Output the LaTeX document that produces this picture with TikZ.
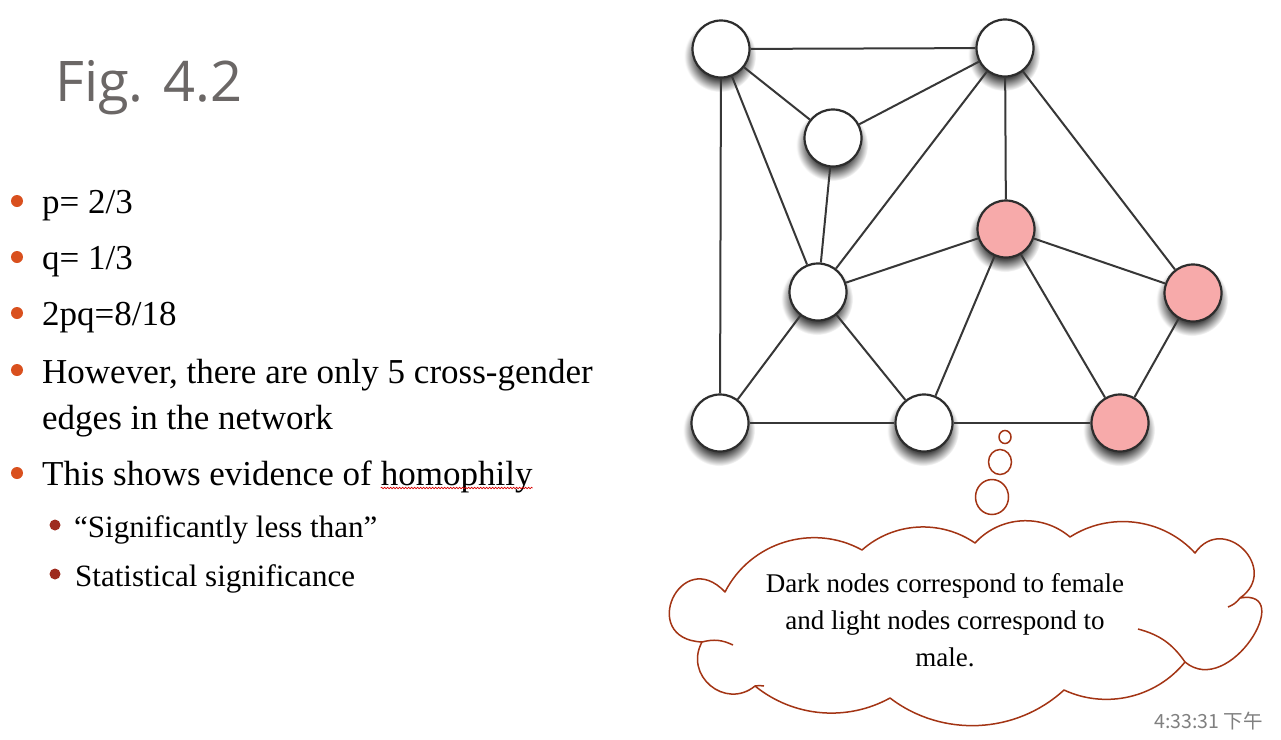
\documentclass[tikz,border=0pt]{standalone}
\usepackage{fontspec}
\setmainfont{Liberation Serif}
\newfontfamily\titlefont{Open Sans}
\newfontfamily\cjkfont{Noto Sans CJK SC}
\usetikzlibrary{shapes.geometric,decorations.pathmorphing}

\definecolor{nodepink}{RGB}{247,170,170}
\definecolor{nodeline}{RGB}{45,45,45}
\definecolor{edgegray}{RGB}{55,55,55}
\definecolor{bulletorange}{RGB}{217,80,30}
\definecolor{bulletred}{RGB}{158,42,30}
\definecolor{cloudred}{RGB}{163,52,20}
\definecolor{titlegray}{RGB}{107,103,102}
\definecolor{stampgray}{RGB}{128,128,128}

% soft round shadow: dark core fading out to white at the rim
\pgfdeclareradialshading{nodeshadow}{\pgfpoint{0cm}{0cm}}{%
  color(0bp)=(black!72); color(16bp)=(black!72);
  color(25bp)=(white); color(50bp)=(white)}

\begin{document}
\begin{tikzpicture}[x=1pt,y=-1pt,
  person/.style={circle, draw=nodeline, line width=2.2pt, minimum size=57pt,
    inner sep=0pt, fill=white},
  female/.style={person, fill=nodepink},
  tie/.style={draw=edgegray, line width=2pt},
  dot/.style={circle, fill=bulletorange, inner sep=0pt, minimum size=12pt},
  subdot/.style={circle, fill=bulletred, inner sep=0pt, minimum size=11pt},
  item/.style={anchor=base west, inner sep=0pt, font=\fontsize{35}{46}\selectfont},
  subitem/.style={anchor=base west, inner sep=0pt, font=\fontsize{31}{40}\selectfont},
  cloudline/.style={draw=cloudred, line width=1.5pt},
  bubble/.style={ellipse, cloudline, inner sep=0pt, fill=white}
]
% canvas
\fill[white] (0,0) rectangle (1281,739);
\useasboundingbox (0,0) rectangle (1281,739);

% title
\node[anchor=base west, inner sep=0pt, text=titlegray,
  font=\titlefont\fontsize{56}{60}\selectfont] (title) at (55,101) {Fig. 4.2};

% bullet list
\node[dot] (b1) at (17,201) {};
\node[item] (l1) at (42,213) {p= 2/3};
\node[dot] (b2) at (17,257) {};
\node[item] (l2) at (42,269) {q= 1/3};
\node[dot] (b3) at (17,313) {};
\node[item] (l3) at (42,325) {2pq=8/18};
\node[dot] (b4) at (17,370) {};
\node[item] (l4a) at (42,383) {However, there are only 5 cross-gender};
\node[item] (l4b) at (42,429) {edges in the network};
\node[dot] (b5) at (17,473) {};
\node[item] (l5a) at (42,485) {This shows evidence of};
\node[item] (l5b) at ([xshift=8.75pt]l5a.base east) {homophily};
\draw[red!85!black, line width=0.6pt, decorate,
  decoration={snake, amplitude=0.8pt, segment length=3pt}]
  ([yshift=-3pt]l5b.base west) -- ([yshift=-3pt]l5b.base east);
\node[subdot] (s1) at (55,525) {};
\node[subitem] (l6) at (74,537) {``Significantly less than''};
\node[subdot] (s2) at (55,574) {};
\node[subitem] (l7) at (75,586) {Statistical significance};

% network: light nodes male, dark nodes female
\coordinate (pA) at (721,49);
\coordinate (pB) at (1005,48);
\coordinate (pC) at (833,138);
\coordinate (pD) at (1006,229);
\coordinate (pE) at (818,292);
\coordinate (pF) at (1193,293);
\coordinate (pG) at (720,423);
\coordinate (pH) at (924,423);
\coordinate (pI) at (1120,423);
\foreach \p in {pA,pB,pC,pD,pE,pF,pG,pH,pI}
  \shade[shading=nodeshadow] ([xshift=-1pt,yshift=-7pt]\p) circle[radius=36pt];

\node[person] (A) at (pA) {};
\node[person] (B) at (pB) {};
\node[person] (C) at (pC) {};
\node[female] (D) at (pD) {};
\node[person] (E) at (pE) {};
\node[female] (F) at (pF) {};
\node[person] (G) at (pG) {};
\node[person] (H) at (pH) {};
\node[female] (I) at (pI) {};

\foreach \u/\v in {A/B, A/C, A/E, A/G, C/B, C/E, B/E, B/D, B/F,
                   D/E, D/F, D/H, D/I, E/G, E/H, G/H, H/I, F/I}
  \draw[tie] (\u) -- (\v);

% thought bubbles
\node[bubble, minimum width=12pt, minimum height=13pt] (t1) at (1005,437) {};
\node[bubble, minimum width=23pt, minimum height=25pt] (t2) at (1000,462) {};
\node[bubble, minimum width=33pt, minimum height=35pt] (t3) at (992,497) {};

% cloud outline: round puffs between the junction points, clockwise
\coordinate (j1) at (725,592);
\coordinate (j2) at (862,550);
\coordinate (j3) at (975,543);
\coordinate (j4) at (1070,537);
\coordinate (j5) at (1195,553);
\coordinate (j6) at (1240,598);
\coordinate (j7) at (1185,662);
\coordinate (j8) at (1064,690);
\coordinate (j9) at (890,698);
\coordinate (j10) at (755,686);
\coordinate (j11) at (702,642);
\draw[cloudline, fill=white, line join=round]
  (j1) to[bend left=46, looseness=1.0] (j2)
       to[bend left=38, looseness=0.95] (j3)
       to[bend left=44, looseness=0.99] (j4)
       to[bend left=40, looseness=0.96] (j5)
       to[bend left=100, looseness=2.0] (j6)
       to[out=10, in=-40, looseness=1.75] (j7)
       to[bend left=38, looseness=0.95] (j8)
       to[bend left=40, looseness=0.96] (j9)
       to[bend left=34, looseness=0.93] (j10)
       to[bend left=79, looseness=1.42] (j11)
       to[bend left=112, looseness=3.0] (j1) -- cycle;
% short inner strokes where puffs overlap
\draw[cloudline] (1138,629) to[bend left=20] (j7);
\draw[cloudline] (j11) to[bend left=20] (733,645);
\draw[cloudline] (j6) to[bend left=15] (1228,607);
\draw[cloudline] (j10) to[bend left=10] (764,686);

\node[align=center, inner sep=0pt, font=\fontsize{27}{37}\selectfont]
  (note) at (945,620) {Dark nodes correspond to female\\and light nodes correspond to\\male.};

% time stamp
\node[anchor=base east, inner sep=0pt, text=stampgray,
  font=\cjkfont\fontsize{19.5}{22}\selectfont] (stamp) at (1263,728) {4:33:31 下午};
\end{tikzpicture}
\end{document}
